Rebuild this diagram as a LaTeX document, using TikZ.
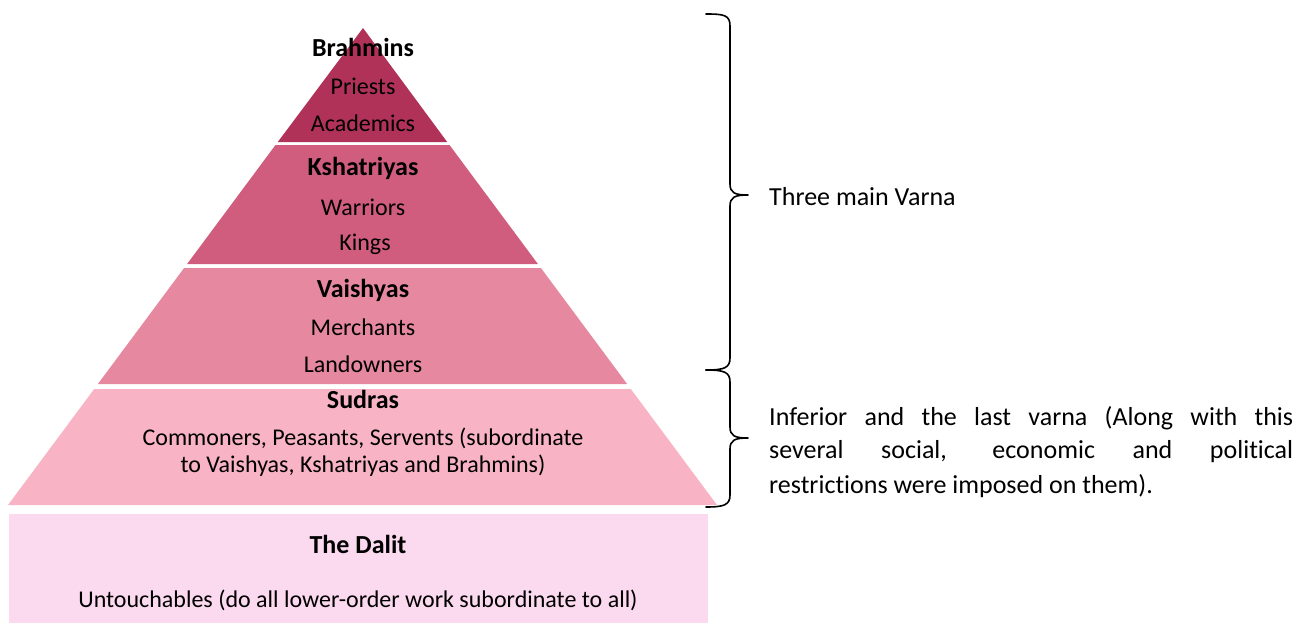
\documentclass[tikz,border=0pt]{standalone}
\usepackage{fontspec}
\setmainfont{Carlito}[Ligatures=NoCommon]
\definecolor{cBrah}{HTML}{B03259}
\definecolor{cKsha}{HTML}{D05C7E}
\definecolor{cVais}{HTML}{E6889F}
\definecolor{cSudr}{HTML}{F8B3C5}
\definecolor{cDali}{HTML}{FBD9EE}
\tikzset{
  title/.style={font=\fontsize{26}{30}\selectfont\bfseries, inner sep=0pt},
  body/.style={font=\fontsize{24}{27}\selectfont, inner sep=0pt, align=center},
  side/.style={font=\fontsize{26}{34}\selectfont, inner sep=0pt, anchor=west},
  bracepath/.style={draw=black, line width=1.6pt, line cap=round, line join=round},
}
\begin{document}
\begin{tikzpicture}[x=1pt,y=-1pt]
\useasboundingbox (0,0) rectangle (1308,623);
% layers
\fill[cBrah] (363,28) -- (447.2,142) -- (277.8,142) -- cycle;
\fill[cKsha] (275.5,145) -- (449.5,145) -- (537.9,264) -- (187.1,264) -- cycle;
\fill[cVais] (184.1,268) -- (540.9,268) -- (627.1,384) -- (97.9,384) -- cycle;
\fill[cSudr] (94.2,389) -- (630.8,389) -- (717,505) -- (8,505) -- cycle;
\fill[cDali] (9,514) rectangle (708,623);
% texts
\node[title] (brah) at (363,47) {Brahmins};
\node[body] (brah1) at (363,86) {Priests};
\node[body] (brah2) at (363,123) {Academics};
\node[title] (ksha) at (363,168) {Kshatriyas};
\node[body] (ksha1) at (363,207) {Warriors};
\node[body] (ksha2) at (365,244) {Kings};
\node[title] (vais) at (363,290) {Vaishyas};
\node[body] (vais1) at (363,327) {Merchants};
\node[body] (vais2) at (363,364) {Landowners};
\node[title] (sudr) at (363,399) {Sudras};
\node[body] (sudr1) at (363,452) {Commoners, Peasants, Servents (subordinate\\to Vaishyas, Kshatriyas and Brahmins)};
\node[title] (dali) at (358,544) {The Dalit};
\node[body] (dali1) at (358,600) {Untouchables (do all lower-order work subordinate to all)};
% braces
\coordinate (b1top) at (706,14);
\coordinate (b1tip) at (748,195);
\coordinate (b1bot) at (706,370);
\coordinate (b2tip) at (748,438);
\coordinate (b2bot) at (706,507);
\draw[bracepath] (b1top) .. controls (724,14) and (730,15) .. (730,26)
  -- (730,184) .. controls (730,193) and (735,195) .. (b1tip)
  .. controls (735,195) and (730,197) .. (730,206)
  -- (730,358) .. controls (730,368) and (724,370) .. (b1bot);
\draw[bracepath] (b1bot) .. controls (724,370) and (730,372) .. (730,382)
  -- (730,427) .. controls (730,436) and (735,438) .. (b2tip)
  .. controls (735,438) and (730,440) .. (730,449)
  -- (730,495) .. controls (730,505) and (724,507) .. (b2bot);
\node[side] (three) at (769,197) {Three main Varna};
\node[side] (inf1) at (769,418) {\makebox[524pt][s]{Inferior and the last varna (Along with this}};
\node[side] (inf2) at (769,452) {\makebox[524pt][s]{several social, economic and political}};
\node[side] (inf3) at (769,486) {restrictions were imposed on them).};
\end{tikzpicture}
\end{document}
